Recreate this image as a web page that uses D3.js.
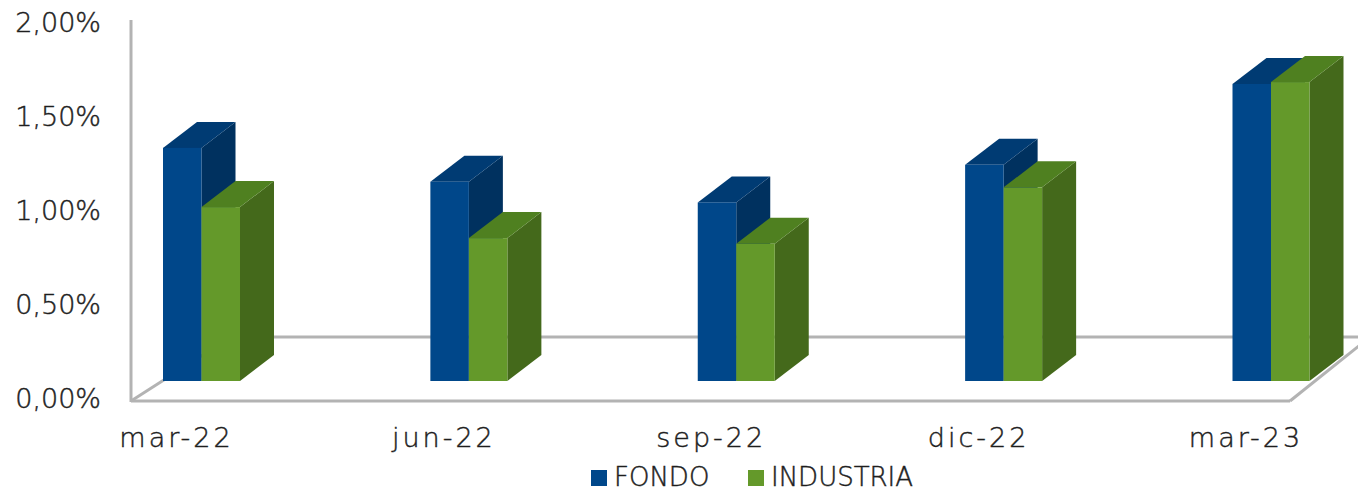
<!DOCTYPE html>
<html>
<head>
<meta charset="utf-8">
<script src="https://cdn.jsdelivr.net/npm/d3@7"></script>
<style>
  html, body { margin: 0; padding: 0; background: #fff; }
  svg { display: block; }
  text { font-family: "DejaVu Sans", Verdana, sans-serif; font-weight: 200; fill: #1e1e1e; stroke: #1e1e1e; stroke-width: 0.45px; }
</style>
</head>
<body>
<svg id="chart" width="1358" height="495"></svg>
<script>
const categories = ["mar-22", "jun-22", "sep-22", "dic-22", "mar-23"];
const seriesNames = ["FONDO", "INDUSTRIA"];
const fondo = [0.0124, 0.0106, 0.0095, 0.0115, 0.0158];
const industria = [0.00925, 0.0076, 0.0073, 0.0103, 0.0159];
const yTicks = [0, 0.005, 0.01, 0.015, 0.02];
const yTickLabels = ["0,00%", "0,50%", "1,00%", "1,50%", "2,00%"];

const colors = {
  FONDO: { front: "#00478A", top: "#003B73", side: "#00315F" },
  INDUSTRIA: { front: "#64992A", top: "#4F8020", side: "#44691B" }
};

const svg = d3.select("#chart");

// Front plane (axis) geometry
const axisX = 131, floorFrontY = 401, floorRightX = 1290;
const depthDX = 80, depthDY = -64;       // floor depth (front edge to back edge)
const barDX = 34, barDY = -26;           // bar depth
const barBaseY = 381;

const yAxis = d3.scaleLinear().domain([0, 0.02]).range([398, 22]);
const yBar = d3.scaleLinear().domain([0, 0.02]).range([barBaseY, barBaseY - 376]);
const xGroup = d3.scalePoint().domain(categories).range([201.5, 1271]);
const xSeries = d3.scaleBand().domain(seriesNames).range([-38.5, 38.5]);

const grid = svg.append("g").attr("stroke", "#B3B3B3").attr("stroke-width", 3).attr("fill", "none");
grid.append("line")
  .attr("x1", axisX + depthDX + 20).attr("y1", floorFrontY + depthDY)
  .attr("x2", floorRightX + depthDX).attr("y2", floorFrontY + depthDY);
grid.append("line")
  .attr("x1", axisX).attr("y1", floorFrontY)
  .attr("x2", axisX + depthDX + 20).attr("y2", floorFrontY + depthDY);
grid.append("line")
  .attr("x1", floorRightX).attr("y1", floorFrontY)
  .attr("x2", floorRightX + depthDX).attr("y2", floorFrontY + depthDY);
grid.append("line")
  .attr("x1", axisX).attr("y1", floorFrontY)
  .attr("x2", floorRightX).attr("y2", floorFrontY);
grid.append("line")
  .attr("x1", axisX).attr("y1", yAxis(0.02) - 2)
  .attr("x2", axisX).attr("y2", floorFrontY + 1);

const data = [];
categories.forEach((c, i) => {
  data.push({ cat: c, s: "FONDO", v: fondo[i] });
  data.push({ cat: c, s: "INDUSTRIA", v: industria[i] });
});

const bars = svg.append("g");
data.forEach(d => {
  const x0 = xGroup(d.cat) + xSeries(d.s);
  const x1 = x0 + xSeries.bandwidth();
  const yt = yBar(d.v);
  const yb = yBar(0);
  const col = colors[d.s];
  const g = bars.append("g");
  g.append("path")
    .attr("d", `M${x1},${yb} L${x1 + barDX},${yb + barDY} L${x1 + barDX},${yt + barDY} L${x1},${yt} Z`)
    .attr("fill", col.side);
  g.append("path")
    .attr("d", `M${x0},${yt} L${x0 + barDX},${yt + barDY} L${x1 + barDX},${yt + barDY} L${x1},${yt} Z`)
    .attr("fill", col.top);
  g.append("rect")
    .attr("x", x0).attr("y", yt)
    .attr("width", x1 - x0).attr("height", yb - yt)
    .attr("fill", col.front);
});

svg.append("g").selectAll("text")
  .data(yTicks)
  .join("text")
  .attr("x", 101)
  .attr("y", d => yAxis(d) + 10)
  .attr("text-anchor", "end")
  .attr("font-size", 27)
  .text((d, i) => yTickLabels[i]);

svg.append("g").selectAll("text")
  .data(categories)
  .join("text")
  .attr("x", d => xGroup(d) - 25)
  .attr("y", 447)
  .attr("text-anchor", "middle")
  .attr("font-size", 27)
  .attr("letter-spacing", 3)
  .text(d => d);

const legend = svg.append("g");
const legendItems = [
  { name: "FONDO", sx: 591, tx: 614 },
  { name: "INDUSTRIA", sx: 748, tx: 771 }
];
legendItems.forEach(li => {
  legend.append("rect")
    .attr("x", li.sx).attr("y", 470).attr("width", 16).attr("height", 16)
    .attr("fill", colors[li.name].front);
  legend.append("text")
    .attr("x", li.tx).attr("y", 486)
    .attr("font-size", 26)
    .text(li.name);
});
</script>
</body>
</html>
